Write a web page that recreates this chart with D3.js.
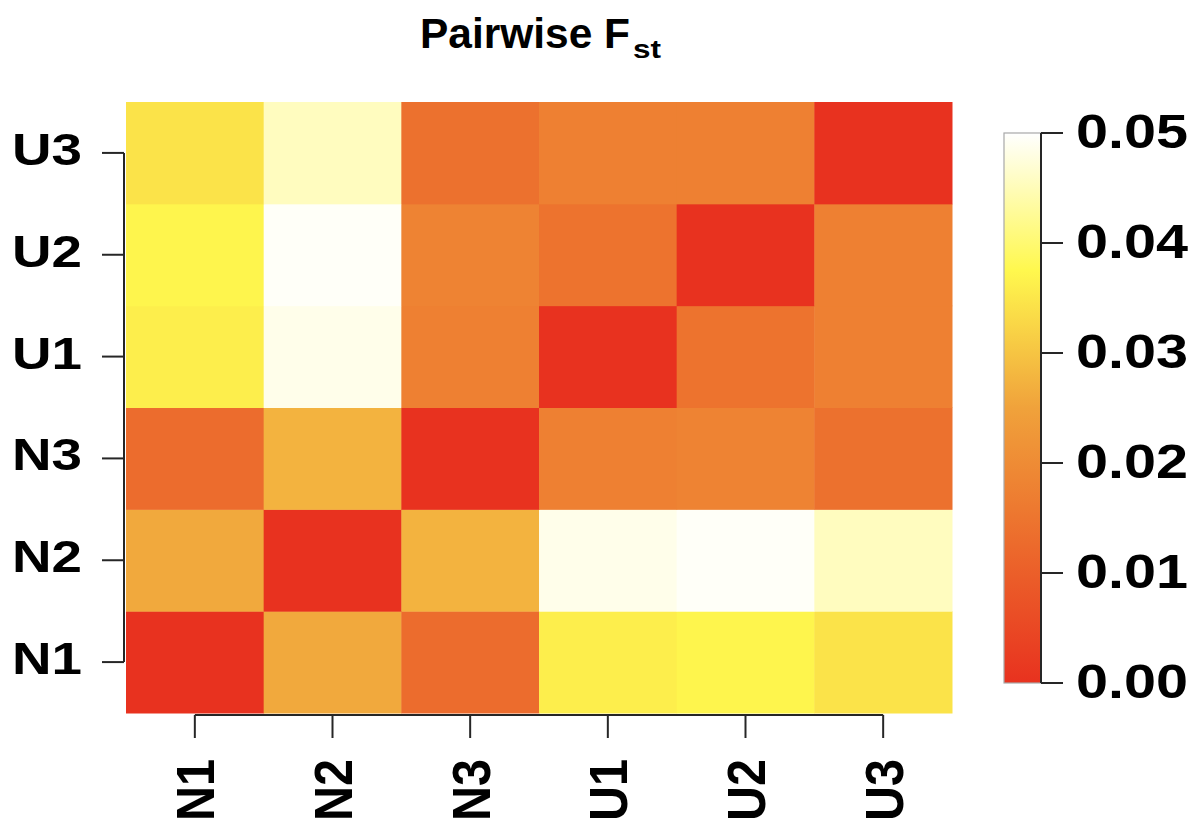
<!DOCTYPE html>
<html><head><meta charset="utf-8">
<script src="https://cdn.jsdelivr.net/npm/d3@7"></script>
<style>
body{margin:0;background:#fff;}
svg{display:block;}
text{font-family:"Liberation Sans",Arial,Helvetica,sans-serif;font-weight:bold;fill:#000;}
</style>
</head><body>
<svg id="chart" width="1200" height="830"></svg>
<script>
// ---- data ----
const populations = ["N1","N2","N3","U1","U2","U3"];
const fstN1 = [0.000, 0.026, 0.013, 0.036, 0.037, 0.0345];
const fstN2 = [0.026, 0.000, 0.0275, 0.0485, 0.0495, 0.0455];
const fstN3 = [0.013, 0.0275, 0.000, 0.0175, 0.018, 0.014];
const fstU1 = [0.036, 0.0485, 0.0175, 0.000, 0.0145, 0.0175];
const fstU2 = [0.037, 0.0495, 0.018, 0.0145, 0.000, 0.0175];
const fstU3 = [0.0345, 0.0455, 0.014, 0.0175, 0.0175, 0.000];
const fstRows = [fstN1, fstN2, fstN3, fstU1, fstU2, fstU3];
const colorTicks = [0, 0.01, 0.02, 0.03, 0.04, 0.05];
const colorStops = [0, 0.0125, 0.025, 0.0375, 0.05];
const colorRamp = ["#e8321f", "#ec6a2c", "#f0a23b", "#fff84e", "#ffffff"];

const cells = [];
populations.forEach((r, i) => populations.forEach((c, j) => cells.push({row: r, col: c, value: fstRows[i][j]})));

// ---- layout ----
const svg = d3.select("#chart");
const plot = {left: 126, right: 952, top: 102, bottom: 713};
const x = d3.scaleBand().domain(populations).range([plot.left, plot.right]);
const y = d3.scaleBand().domain(populations).range([plot.bottom, plot.top]);
const color = d3.scaleLinear().domain(colorStops).range(colorRamp).clamp(true);
const axisCol = "#262626";

svg.append("rect").attr("width", 1200).attr("height", 830).attr("fill", "#fff");

// cells
svg.append("g").selectAll("rect").data(cells).join("rect")
  .attr("x", d => x(d.col))
  .attr("y", d => y(d.row))
  .attr("width", x.bandwidth() + 0.5)
  .attr("height", y.bandwidth() + 0.5)
  .attr("fill", d => color(d.value));

// title
svg.append("text").attr("x", 420).attr("y", 48).attr("font-size", 42)
  .attr("textLength", 210).attr("lengthAdjust", "spacingAndGlyphs").text("Pairwise F");
svg.append("text").attr("x", 633).attr("y", 58).attr("font-size", 25)
  .attr("textLength", 28).attr("lengthAdjust", "spacingAndGlyphs").text("st");

// y axis
const cy = d => y(d) + y.bandwidth() / 2;
const yAxisX = 124;
const yg = svg.append("g").attr("stroke", axisCol).attr("stroke-width", 2);
yg.append("line").attr("x1", yAxisX).attr("x2", yAxisX)
  .attr("y1", cy(populations[populations.length - 1])).attr("y2", cy(populations[0]));
yg.selectAll("line.tick").data(populations).join("line").attr("class", "tick")
  .attr("x1", yAxisX - 22).attr("x2", yAxisX).attr("y1", d => cy(d)).attr("y2", d => cy(d));
svg.append("g").selectAll("text").data(populations).join("text")
  .attr("x", 82).attr("y", d => cy(d) + 12).attr("text-anchor", "end")
  .attr("font-size", 45).attr("textLength", 70).attr("lengthAdjust", "spacingAndGlyphs")
  .text(d => d);

// x axis
const cx = d => x(d) + x.bandwidth() / 2;
const xAxisY = 715;
const xg = svg.append("g").attr("stroke", axisCol).attr("stroke-width", 2);
xg.append("line").attr("y1", xAxisY).attr("y2", xAxisY)
  .attr("x1", cx(populations[0])).attr("x2", cx(populations[populations.length - 1]));
xg.selectAll("line.tick").data(populations).join("line").attr("class", "tick")
  .attr("y1", xAxisY).attr("y2", xAxisY + 23).attr("x1", d => cx(d)).attr("x2", d => cx(d));
svg.append("g").selectAll("text").data(populations).join("text")
  .attr("transform", d => `translate(${cx(d)},759) rotate(-90)`)
  .attr("text-anchor", "end").attr("dy", "0.36em")
  .attr("font-size", 54).attr("textLength", 62).attr("lengthAdjust", "spacingAndGlyphs")
  .text(d => d);

// colour bar
const cb = d3.scaleLinear().domain([0, 0.05]).range([683, 133]);
const defs = svg.append("defs");
const grad = defs.append("linearGradient").attr("id", "cbgrad")
  .attr("x1", 0).attr("y1", 1).attr("x2", 0).attr("y2", 0);
grad.selectAll("stop").data(colorStops).join("stop")
  .attr("offset", d => d / 0.05).attr("stop-color", d => color(d));
const cbX = 1004, cbW = 37;
svg.append("rect").attr("x", cbX).attr("y", cb(0.05)).attr("width", cbW)
  .attr("height", cb(0) - cb(0.05)).attr("fill", "url(#cbgrad)")
  .attr("stroke", "#a8a8a8").attr("stroke-width", 1.2);
const cg = svg.append("g").attr("stroke", axisCol).attr("stroke-width", 2);
cg.append("line").attr("x1", cbX + cbW).attr("x2", cbX + cbW).attr("y1", cb(0)).attr("y2", cb(0.05));
cg.selectAll("line.tick").data(colorTicks).join("line").attr("class", "tick")
  .attr("x1", cbX + cbW).attr("x2", cbX + cbW + 22).attr("y1", d => cb(d)).attr("y2", d => cb(d));
svg.append("g").selectAll("text").data(colorTicks).join("text")
  .attr("x", 1076).attr("y", d => cb(d) + 15)
  .attr("font-size", 48).attr("textLength", 112).attr("lengthAdjust", "spacingAndGlyphs")
  .text(d => d3.format(".2f")(d));
</script>
</body></html>
